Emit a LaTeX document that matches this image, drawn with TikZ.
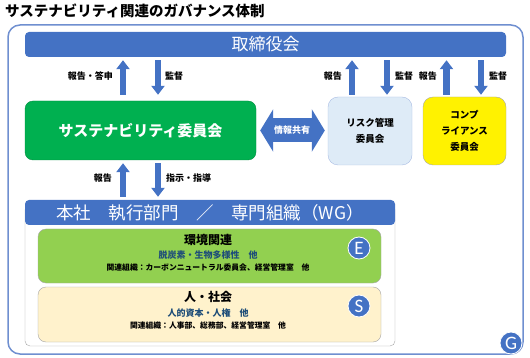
\documentclass[tikz,border=0pt]{standalone}
\usepackage{fontspec}
\newfontfamily\jp{Noto Sans CJK JP}
\newfontfamily\lat{Carlito}
\usetikzlibrary{arrows.meta}
\definecolor{boardblue}{HTML}{4472C4}
\definecolor{susgreen}{HTML}{00B050}
\definecolor{envgreen}{HTML}{92D050}
\definecolor{socbeige}{HTML}{FFF2CC}
\definecolor{riskblue}{HTML}{DEEBF7}
\definecolor{framegray}{HTML}{A6A6A6}
\definecolor{frameblue}{HTML}{6F8FD0}
\definecolor{textnavy}{HTML}{1F4E79}
\begin{document}
\begin{tikzpicture}[x=1pt, y=-1pt,
    blockarrow/.style={draw=boardblue, line width=6.5pt, -{Triangle[width=13pt, length=9pt]}},
    lbl/.style={inner sep=0pt, font=\jp\bfseries\fontsize{9}{10}\selectfont},
    box/.style={rounded corners=8pt, inner sep=0pt},
    head/.style={inner sep=0pt, font=\jp\bfseries\fontsize{12}{13}\selectfont},
    topic/.style={inner sep=0pt, text=textnavy, font=\jp\bfseries\fontsize{9}{10}\selectfont},
    org/.style={inner sep=0pt, font=\jp\bfseries\fontsize{7.8}{9}\selectfont},
    badge/.style={circle, fill=boardblue, draw=white, line width=0.8pt, text=white, minimum size=22pt, inner sep=0pt, font=\lat\fontsize{19}{19}\selectfont}]
    \useasboundingbox (0,0) rectangle (530,358);

    % タイトル
    \node[anchor=west, inner sep=0pt, font=\jp\bfseries\fontsize{14.5}{16}\selectfont] (title) at (5,11) {サステナビリティ関連のガバナンス体制};

    % 外枠
    \draw[frameblue, line width=1.5pt, rounded corners=12pt] (8,25) rectangle (523,354);

    % 取締役会
    \node[box, rounded corners=4pt, fill=boardblue, minimum width=481pt, minimum height=25pt, text=white, font=\jp\fontsize{17}{18}\selectfont] (board) at (265.5,44.5) {取締役会};

    % 委員会
    \node[box, fill=susgreen, draw=susgreen!80!black, minimum width=231pt, minimum height=59pt, text=white, font=\jp\bfseries\fontsize{15}{16}\selectfont] (sus) at (140.5,130.5) {サステナビリティ委員会};
    \node[box, rounded corners=10pt, fill=riskblue, draw=frameblue!60, minimum width=84pt, minimum height=68pt, align=center, font=\jp\bfseries\fontsize{9.5}{16}\selectfont] (risk) at (370,131) {リスク管理\\委員会};
    \node[box, rounded corners=10pt, fill=yellow, draw=framegray, minimum width=83pt, minimum height=68pt, align=center, font=\jp\bfseries\fontsize{9.5}{16}\selectfont] (comp) at (464.5,131) {コンプ\\ライアンス\\委員会};

    % 情報共有
    \draw[boardblue, line width=24pt, {Triangle[width=42pt, length=13pt]}-{Triangle[width=42pt, length=13pt]}, shorten <=4pt, shorten >=3pt] (sus.east) -- (sus.east -| risk.west) node[midway, text=white, inner sep=0pt, font=\jp\bfseries\fontsize{9}{10}\selectfont] (share) {情報共有};

    % 取締役会との矢印
    \draw[blockarrow, shorten <=6pt, shorten >=3pt] ([xshift=-17.5pt]sus.north) -- ([xshift=-17.5pt]sus.north |- board.south);
    \draw[blockarrow, shorten <=3pt, shorten >=6pt] ([xshift=17.5pt]sus.north |- board.south) -- ([xshift=17.5pt]sus.north);
    \draw[blockarrow, shorten <=2pt, shorten >=3pt] ([xshift=-18pt]risk.north) -- ([xshift=-18pt]risk.north |- board.south);
    \draw[blockarrow, shorten <=3pt, shorten >=2pt] ([xshift=17pt]risk.north |- board.south) -- ([xshift=17pt]risk.north);
    \draw[blockarrow, shorten <=2pt, shorten >=3pt] ([xshift=-18pt]comp.north) -- ([xshift=-18pt]comp.north |- board.south);
    \draw[blockarrow, shorten <=3pt, shorten >=2pt] ([xshift=16.5pt]comp.north |- board.south) -- ([xshift=16.5pt]comp.north);

    % 矢印ラベル
    \node[lbl, anchor=east] (rep1) at (113,76) {報告・答申};
    \node[lbl, anchor=west] (sup1) at (165,76) {監督};
    \node[lbl, anchor=east] (rep2) at (342,76) {報告};
    \node[lbl, anchor=west] (sup2) at (395,76) {監督};
    \node[lbl, anchor=east] (rep3) at (437,76) {報告};
    \node[lbl, anchor=west] (sup3) at (489,76) {監督};

    % 本社 執行部門 / 専門組織
    \draw[framegray, fill=white, rounded corners=5pt] (25,205) rectangle (395,346);
    \node[box, rounded corners=4pt, fill=boardblue, minimum width=370pt, minimum height=25pt, text=white, font=\jp\fontsize{17.5}{18}\selectfont] (wg) at (210,212.5) {本社　執行部門　／　専門組織（WG）};

    % 委員会と本社の矢印
    \draw[blockarrow, shorten <=3pt, shorten >=3pt] ([xshift=-17.5pt]sus.south |- wg.north) -- ([xshift=-17.5pt]sus.south);
    \draw[blockarrow, shorten <=3pt, shorten >=3pt] ([xshift=17.5pt]sus.south) -- ([xshift=17.5pt]sus.south |- wg.north);
    \node[lbl, anchor=east] (rep4) at (112,178) {報告};
    \node[lbl, anchor=west] (dir4) at (166,178) {指示・指導};

    % 環境関連
    \node[box, fill=envgreen, draw=framegray, minimum width=343pt, minimum height=54pt] (env) at (209.5,256) {};
    \node[head] (envhead) at (208,240) {環境関連};
    \node[topic] (envtopic) at (208,255) {脱炭素・生物多様性　他};
    \node[org] (envorg) at (208,268) {関連組織：カーボンニュートラル委員会、経営管理室　他};
    \node[badge] (e) at (359,248) {E};

    % 人・社会
    \node[box, fill=socbeige, draw=framegray, minimum width=343pt, minimum height=55pt] (soc) at (209.5,314.5) {};
    \node[head] (sochead) at (208,297) {人・社会};
    \node[topic] (soctopic) at (208,313) {人的資本・人権　他};
    \node[org] (socorg) at (208,326) {関連組織：人事部、総務部、経営管理室　他};
    \node[badge] (s) at (359,306) {S};

    % ガバナンス
    \node[badge] (g) at (511,343) {G};
\end{tikzpicture}
\end{document}
